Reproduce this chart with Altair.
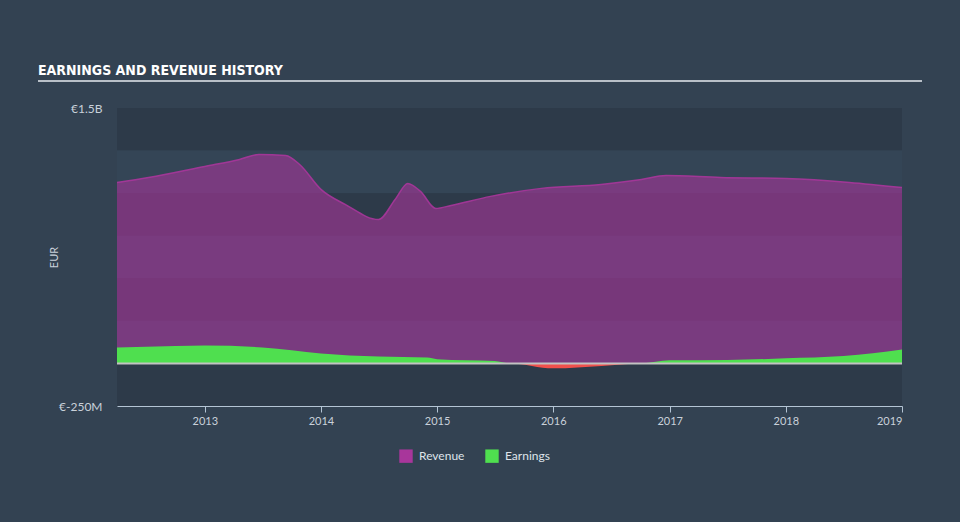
import altair as alt
import pandas as pd

# ---- data ----
rev_dates = ["2012-03-31", "2012-07-08", "2013-01-01", "2013-04-20", "2013-06-20",
             "2013-09-12", "2013-10-26", "2014-01-01", "2014-03-18", "2014-07-01",
             "2014-08-22", "2014-10-01", "2014-11-10", "2014-12-28", "2015-02-14",
             "2015-06-18", "2015-11-25", "2016-05-30", "2016-10-04", "2016-12-20",
             "2017-06-10", "2018-01-01", "2018-07-20", "2019-01-01"]
rev_values = [1063e6, 1092e6, 1157e6, 1198e6, 1227e6,
              1221e6, 1168e6, 1022e6, 934e6, 845e6,
              963e6, 1057e6, 1010e6, 910e6, 928e6,
              981e6, 1028e6, 1051e6, 1080e6, 1104e6,
              1092e6, 1086e6, 1063e6, 1033e6]

earn_dates = ["2012-03-31", "2012-10-01", "2013-01-01", "2013-07-01", "2013-10-01",
              "2014-01-01", "2014-07-01", "2014-12-01", "2015-01-01", "2015-07-01",
              "2015-08-20", "2016-01-01", "2016-06-01", "2016-10-04", "2017-01-01",
              "2017-07-01", "2018-01-01", "2018-07-01", "2019-01-01"]
earn_values = [94e6, 102e6, 105e6, 94e6, 78e6,
               58e6, 41e6, 35e6, 25e6, 14e6,
               0, -29e6, -15e6, 0, 18e6,
               20e6, 30e6, 43e6, 82e6]

y_tick_values = [1.5e9, -2.5e8]
y_tick_labels = ["€1.5B", "€-250M"]
band_edges = [1.5e9, 1.25e9, 1.0e9, 0.75e9, 0.5e9, 0.25e9, 0.0, -2.5e8]
series_names = ["Revenue", "Earnings"]
series_colors = ["#a8369b", "#4fdf4f"]
x_domain = ["2012-03-31", "2019-01-01"]
title_text = "EARNINGS AND REVENUE HISTORY"

rev_df = pd.DataFrame({"date": rev_dates, "value": rev_values})
earn_df = pd.DataFrame({"date": earn_dates, "value": earn_values})
earn_df["pos"] = earn_df["value"].clip(lower=0)
earn_df["neg"] = earn_df["value"].clip(upper=0)
bands_df = pd.DataFrame({
    "top": band_edges[:-1],
    "bottom": band_edges[1:],
    "shade": ["dark" if i % 2 == 0 else "light" for i in range(len(band_edges) - 1)],
})

label_expr = " : ".join(
    f"datum.value == {v} ? '{l}'" for v, l in zip(y_tick_values, y_tick_labels)
) + " : ''"

W, H = 785, 298
yscale = alt.Scale(domain=[-2.5e8, 1.5e9], nice=False, zero=False)
xscale = alt.Scale(domain=x_domain, nice=False)
color_scale = alt.Scale(domain=series_names, range=series_colors)

bands = alt.Chart(bands_df).mark_rect().encode(
    y=alt.Y("top:Q", scale=yscale, axis=alt.Axis(
        values=y_tick_values, labelExpr=label_expr, grid=False, domain=False,
        ticks=False, labelPadding=15, labelColor="#c9d1da", labelFontSize=12,
        labelFont="Lato", title="EUR", titleColor="#c9d1da", titleFontSize=11,
        titleFont="Lato", titleFontWeight="normal", titleX=-58, titleY=149)),
    y2="bottom:Q",
    fill=alt.Fill("shade:N", scale=alt.Scale(domain=["dark", "light"],
                                             range=["#2d3a49", "#344556"]),
                  legend=None),
)

revenue = alt.Chart(rev_df).mark_area(
    interpolate="monotone", fillOpacity=0.6,
    line={"strokeWidth": 1.5, "opacity": 0.9},
).encode(
    x=alt.X("date:T", scale=xscale, axis=alt.Axis(
        format="%Y", tickCount="year", grid=False, title=None,
        domainColor="#b4c4d4", tickColor="#b4c4d4", tickSize=6,
        labelColor="#c9d1da", labelFontSize=11, labelFont="Lato", labelPadding=3)),
    y=alt.Y("value:Q", scale=yscale),
    color=alt.Color("series:N", scale=color_scale, legend=alt.Legend(
        title=None, orient="none", direction="horizontal", legendX=282, legendY=341,
        symbolType="square", symbolSize=180, symbolOpacity=1, symbolStrokeWidth=0,
        labelColor="#dfe4ea", labelFontSize=12, labelFont="Lato", columnPadding=20,
        labelOffset=6)),
).transform_calculate(series="'Revenue'")

earn_pos = alt.Chart(earn_df).mark_area(interpolate="monotone").encode(
    x=alt.X("date:T", scale=xscale),
    y=alt.Y("pos:Q", scale=yscale),
    color=alt.Color("series:N", scale=color_scale, legend=None),
).transform_calculate(series="'Earnings'")

earn_neg = alt.Chart(earn_df).mark_area(interpolate="monotone", color="#f0504c").encode(
    x=alt.X("date:T", scale=xscale),
    y=alt.Y("neg:Q", scale=yscale),
)

zero_rule = alt.Chart(pd.DataFrame({"z": [0.0]})).mark_rule(
    color="#c2c2c2", strokeWidth=2).encode(y=alt.Y("z:Q", scale=yscale))

title_rule = alt.Chart(pd.DataFrame({"a": [0]})).mark_rule(
    color="#b9c0c8", strokeWidth=2).encode(
    x=alt.value(-79), x2=alt.value(805), y=alt.value(-27))

title_mark = alt.Chart(pd.DataFrame({"t": [title_text]})).mark_text(
    align="left", baseline="alphabetic", font="DejaVu Sans Condensed",
    fontWeight="bold", fontSize=14, color="#ffffff").encode(
    x=alt.value(-79), y=alt.value(-33), text="t:N")

chart = alt.layer(bands, revenue, earn_pos, earn_neg, zero_rule, title_rule,
                  title_mark).properties(
    width=W, height=H,
    autosize=alt.AutoSizeParams(type="none"),
    padding={"left": 117, "top": 108, "right": 58, "bottom": 116},
).configure(
    background="#334252",
).configure_view(stroke=None)

chart.save("out.html", embed_options={"renderer": "svg", "actions": False})
